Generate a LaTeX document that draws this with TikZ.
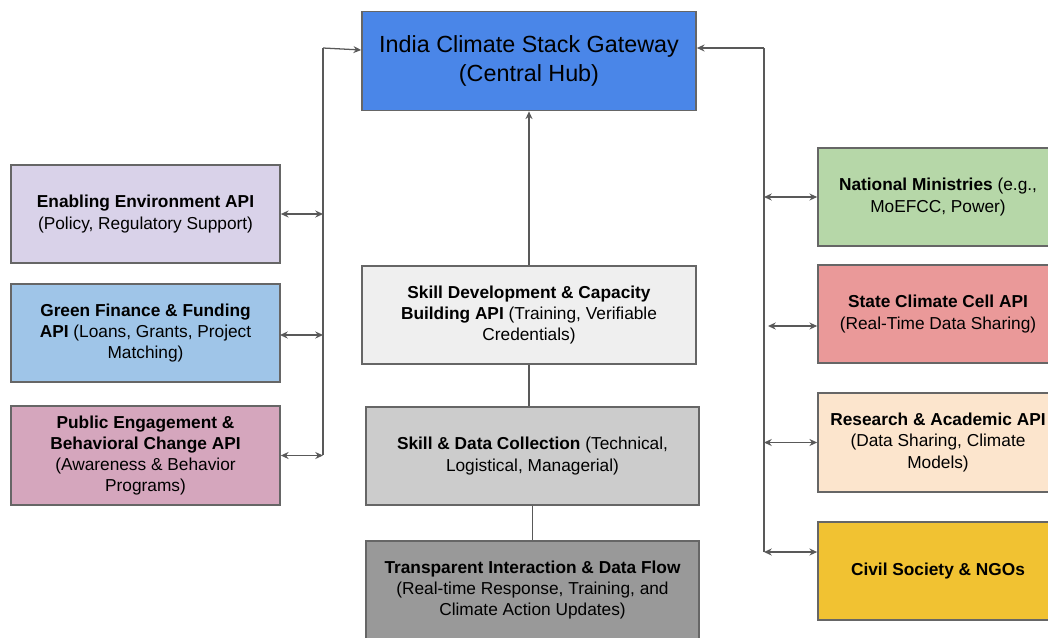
\documentclass[tikz,border=0pt]{standalone}
\usepackage{fontspec}
\setmainfont{Liberation Sans}
\usepackage{tikz}
\usetikzlibrary{arrows.meta, calc, positioning}

\definecolor{gwblue}{HTML}{4A86E8}
\definecolor{envlav}{HTML}{D9D2E9}
\definecolor{finblue}{HTML}{9FC5E8}
\definecolor{pubpink}{HTML}{D5A6BD}
\definecolor{sdgray}{HTML}{EFEFEF}
\definecolor{sdcgray}{HTML}{CCCCCC}
\definecolor{trgray}{HTML}{999999}
\definecolor{nmgreen}{HTML}{B6D7A8}
\definecolor{scred}{HTML}{EA9999}
\definecolor{racream}{HTML}{FCE5CD}
\definecolor{csyellow}{HTML}{F1C232}
\definecolor{edgegray}{HTML}{666666}
\definecolor{linegray}{HTML}{595959}

\tikzset{
  apibox/.style={draw=edgegray, line width=1.2pt, rectangle, align=center,
    font=\fontsize{12.3}{15}\selectfont, inner sep=2pt},
  link/.style={draw=linegray, line width=0.9pt}
}

\begin{document}
\begin{tikzpicture}[x=0.25mm, y=-0.25mm, >={Stealth[length=5.5pt,width=5pt]}]
\useasboundingbox (0,0) rectangle (1048,637);

% hub
\node (gw) at (529,61) [apibox, fill=gwblue, minimum width=83.5mm, minimum height=24.75mm,
  font=\fontsize{16.6}{20}\selectfont] {India Climate Stack Gateway\\(Central Hub)};

% left column
\node (env) at (145.5,214) [apibox, fill=envlav, minimum width=67.25mm, minimum height=24.5mm]
  {\textbf{Enabling Environment API}\\(Policy, Regulatory Support)};
\node (fin) at (145.5,333) [apibox, fill=finblue, minimum width=67.25mm, minimum height=24.5mm]
  {\textbf{Green Finance \& Funding}\\\textbf{API} (Loans, Grants, Project\\Matching)};
\node (pub) at (145.5,455.5) [apibox, fill=pubpink, minimum width=67.25mm, minimum height=24.75mm]
  {\textbf{Public Engagement \&}\\\textbf{Behavioral Change API}\\(Awareness \& Behavior\\Programs)};

% centre column
\node (sd) at (529,315) [apibox, fill=sdgray, minimum width=83.5mm, minimum height=24.5mm]
  {\textbf{Skill Development \& Capacity}\\\textbf{Building API} (Training, Verifiable\\Credentials)};
\node (sdc) at (532.5,456) [apibox, fill=sdcgray, minimum width=83.25mm, minimum height=24.5mm]
  {\textbf{Skill \& Data Collection} (Technical,\\Logistical, Managerial)};
\node (tr) at (532.5,590) [apibox, fill=trgray, minimum width=83.25mm, minimum height=24.5mm]
  {\textbf{Transparent Interaction \& Data Flow}\\(Real-time Response, Training, and\\Climate Action Updates)};

% right column
\node (nm) at (938,197) [apibox, fill=nmgreen, minimum width=60mm, minimum height=24.5mm]
  {\textbf{National Ministries} (e.g.,\\MoEFCC, Power)};
\node (sc) at (938,314) [apibox, fill=scred, minimum width=60mm, minimum height=24.5mm]
  {\textbf{State Climate Cell API}\\(Real-Time Data Sharing)};
\node (ra) at (938,442.5) [apibox, fill=racream, minimum width=60mm, minimum height=24.75mm]
  {\textbf{Research \& Academic API}\\(Data Sharing, Climate\\Models)};
\node (cs) at (938,571) [apibox, fill=csyellow, minimum width=60mm, minimum height=24.5mm]
  {\textbf{Civil Society \& NGOs}};

% bus points
\coordinate (lbTop) at (323,48);
\coordinate (lbBot) at (323,455);
\coordinate (rbTop) at (764,48);
\coordinate (rbBot) at (764,552);
\coordinate (rbSc) at (768,326);
\coordinate (finE) at (280,335);

% left bus
\draw[link] (lbBot) -- (lbTop);
\draw[link, ->] (lbTop) -- (gw.west |- 0,50);
\draw[link, <->] (env.east) -- (env.east -| lbTop);
\draw[link, <->] (finE) -- (finE -| lbTop);
\draw[link, <->] (pub.east) -- (pub.east -| lbTop);

% right bus
\draw[link] (rbBot) -- (rbTop);
\draw[link, ->] (rbTop) -- (gw.east |- rbTop);
\draw[link, <->] (nm.west -| rbTop) -- (nm.west);
\draw[link, <->] (rbSc) -- (rbSc -| sc.west);
\draw[link, <->] (ra.west -| rbTop) -- (ra.west);
\draw[link, <->] (rbBot) -- (rbBot -| cs.west);

% centre links
\draw[link, ->] (sd.north) -- (gw.south);
\draw[link] (sd.south) -- (sd.south |- sdc.north);
\draw[link] (sdc.south) -- (tr.north);
\end{tikzpicture}
\end{document}
